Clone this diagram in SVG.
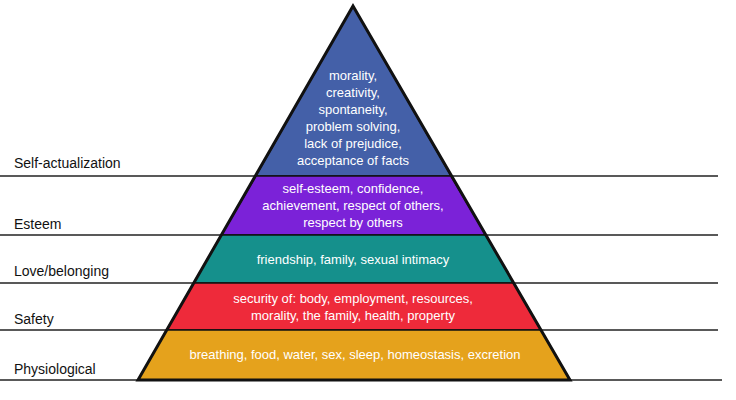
<svg xmlns="http://www.w3.org/2000/svg" width="736" height="400" viewBox="0 0 736 400">
<style>
.l{stroke:#222;stroke-width:1.3}
.b{stroke:#111;stroke-width:1.5}
.t{font-family:"Liberation Sans",Arial,sans-serif;font-size:13px;fill:#fff;text-anchor:middle}
.k{font-family:"Liberation Sans",Arial,sans-serif;font-size:14px;fill:#111}
</style>
<rect width="736" height="400" fill="#fff"/>
<g id="connectors">
<line class="l" x1="0" y1="176" x2="718" y2="176"/>
<line class="l" x1="0" y1="235" x2="718" y2="235"/>
<line class="l" x1="0" y1="283" x2="718" y2="283"/>
<line class="l" x1="0" y1="330" x2="718" y2="330"/>
<line class="l" x1="0" y1="380" x2="722" y2="380"/>
</g>
<g id="self-actualization">
<polygon class="b" points="353,6 255.8,176 451,176" fill="#4460a8"/>
<text class="t"><tspan x="353" y="80">morality,</tspan><tspan x="353" y="97">creativity,</tspan><tspan x="353" y="114">spontaneity,</tspan><tspan x="353" y="131">problem solving,</tspan><tspan x="353" y="148">lack of prejudice,</tspan><tspan x="353" y="165">acceptance of facts</tspan></text>
<text class="k" x="14" y="168">Self-actualization</text>
</g>
<g id="esteem">
<polygon class="b" points="255.8,176 451,176 485.8,235 221.3,235" fill="#7b22d8"/>
<text class="t"><tspan x="353" y="193">self-esteem, confidence,</tspan><tspan x="353" y="210">achievement, respect of others,</tspan><tspan x="353" y="227">respect by others</tspan></text>
<text class="k" x="14" y="229">Esteem</text>
</g>
<g id="love">
<polygon class="b" points="221.3,235 485.8,235 513.7,283 193.7,283" fill="#15908c"/>
<text class="t" x="353" y="264">friendship, family, sexual intimacy</text>
<text class="k" x="14" y="276">Love/belonging</text>
</g>
<g id="safety">
<polygon class="b" points="193.7,283 513.7,283 541,330 166.7,330" fill="#ee2a3a"/>
<text class="t"><tspan x="353" y="303">security of: body, employment, resources,</tspan><tspan x="353" y="320">morality, the family, health, property</tspan></text>
<text class="k" x="14" y="324">Safety</text>
</g>
<g id="physiological">
<polygon class="b" points="166.7,330 541,330 570,380 138,380" fill="#e5a21c"/>
<text class="t" x="355" y="359">breathing, food, water, sex, sleep, homeostasis, excretion</text>
<text class="k" x="14" y="374">Physiological</text>
</g>
<polygon points="353,6 570,380 138,380" fill="none" stroke="#111" stroke-width="3" stroke-linejoin="miter"/>
</svg>
